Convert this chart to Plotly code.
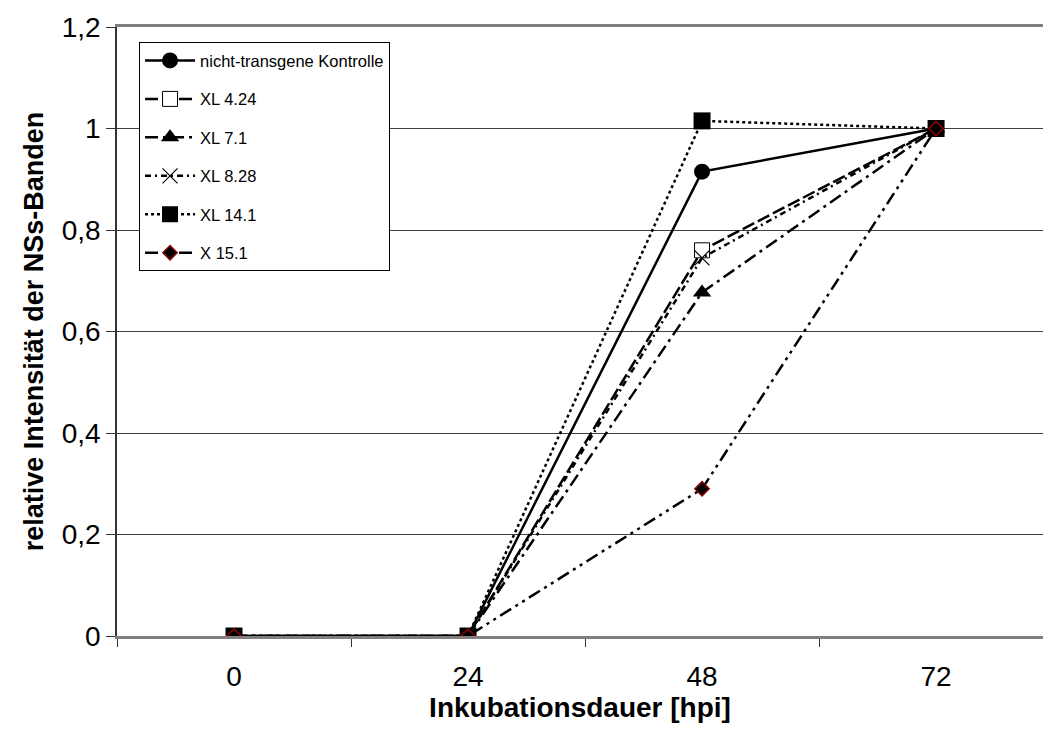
import plotly.graph_objects as go

categories = ["0", "24", "48", "72"]
series_names = ["nicht-transgene Kontrolle", "XL 4.24", "XL 7.1", "XL 8.28", "XL 14.1", "X 15.1"]
kontrolle = [0, 0, 0.915, 1.0]
xl_4_24 = [0, 0, 0.76, 1.0]
xl_7_1 = [0, 0, 0.677, 1.0]
xl_8_28 = [0, 0, 0.745, 1.0]
xl_14_1 = [0, 0, 1.015, 1.0]
x_15_1 = [0, 0, 0.29, 1.0]
y_ticks = [0, 0.2, 0.4, 0.6, 0.8, 1.0, 1.2]

values = [kontrolle, xl_4_24, xl_7_1, xl_8_28, xl_14_1, x_15_1]
styles = [
    dict(dash="solid", symbol="circle", size=16, fill="black", lc="black", lw=0),
    dict(dash="13px,4px", symbol="square", size=15, fill="white", lc="black", lw=1),
    dict(dash="13px,5px,3px,5px", symbol="triangle-up", size=16, fill="black", lc="black", lw=0),
    dict(dash="6px,4px,2px,4px", symbol="x-thin-open", size=15, fill="black", lc="black", lw=1.2),
    dict(dash="3px,3px", symbol="square", size=17, fill="black", lc="black", lw=0),
    dict(dash="13px,5px,3px,5px,3px,5px", symbol="diamond", size=11, fill="black", lc="#8b0000", lw=1.5),
]

fig = go.Figure()
for i, (name, vals, st) in enumerate(zip(series_names, values, styles)):
    fig.add_trace(go.Scatter(
        x=categories, y=vals, name=name, mode="lines+markers",
        legendgroup=f"g{i}",
        line=dict(color="black", width=2.5, dash=st["dash"]),
        marker=dict(symbol=st["symbol"], size=st["size"], color=st["fill"],
                    line=dict(color=st["lc"], width=st["lw"])),
    ))

fig.update_layout(
    width=1043, height=731,
    margin=dict(l=117, r=0, t=27, b=95),
    paper_bgcolor="white", plot_bgcolor="white",
    separators=",.",
    font=dict(family="Liberation Sans, Arial, sans-serif", color="black"),
    showlegend=True,
    legend=dict(
        x=0.0238, y=0.975, xanchor="left", yanchor="top",
        bordercolor="black", borderwidth=1, bgcolor="white",
        font=dict(size=16.5), itemwidth=50,
        traceorder="grouped", tracegroupgap=14,
    ),
    xaxis=dict(
        type="category", range=[-0.5, 3.457],
        tickson="boundaries", ticks="outside", ticklen=8, tickcolor="#333",
        ticklabelstandoff=14,
        showline=True, linecolor="#808080", linewidth=2.5, mirror=True,
        showgrid=False, zeroline=False,
        tickfont=dict(size=28),
        title=dict(text="<b>Inkubationsdauer [hpi]</b>", font=dict(size=28), standoff=6),
    ),
    yaxis=dict(
        range=[0, 1.2], tickvals=y_ticks,
        ticks="outside", ticklen=9, tickcolor="#333",
        showline=True, linecolor="#333", linewidth=1.5,
        showgrid=True, gridcolor="#404040", gridwidth=1,
        zeroline=False,
        tickfont=dict(size=28),
        title=dict(text="<b>relative Intensität der NSs-Banden</b>", font=dict(size=27), standoff=10),
    ),
)

fig.write_html("out.html")
